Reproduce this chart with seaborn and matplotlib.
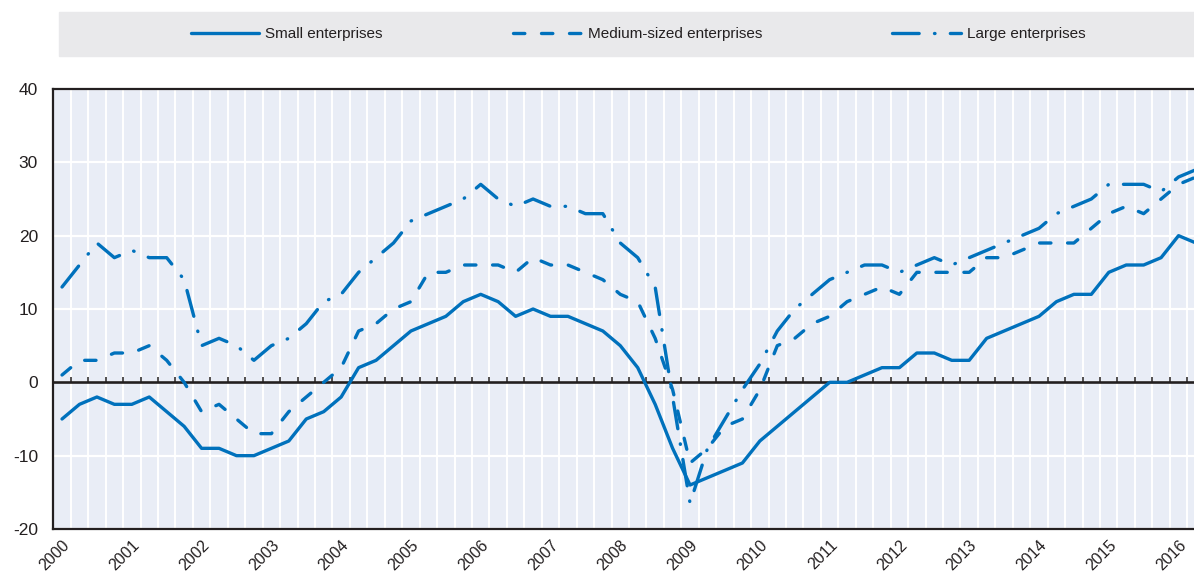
import numpy as np
import pandas as pd
import seaborn as sns
import matplotlib
matplotlib.use("Agg")
import matplotlib.pyplot as plt
import matplotlib.transforms as mtransforms
from matplotlib.patches import Rectangle


YEARS = list(range(2000, 2017))

# quarterly balances, 2000Q1 .. 2016Q2
SMALL = [-5, -3, -2, -3, -3, -2, -4, -6, -9, -9, -10, -10, -9, -8, -5, -4,
         -2, 2, 3, 5, 7, 8, 9, 11, 12, 11, 9, 10, 9, 9, 8, 7,
         5, 2, -3, -9, -14, -13, -12, -11, -8, -6, -4, -2, 0, 0, 1, 2,
         2, 4, 4, 3, 3, 6, 7, 8, 9, 11, 12, 12, 15, 16, 16, 17,
         20, 19]
MEDIUM = [1, 3, 3, 4, 4, 5, 3, 0, -4, -3, -5, -7, -7, -4, -2, 0,
          2, 7, 8, 10, 11, 15, 15, 16, 16, 16, 15, 17, 16, 16, 15, 14,
          12, 11, 6, -1, -11, -9, -6, -5, -1, 5, 6, 8, 9, 11, 12, 13,
          12, 15, 15, 15, 15, 17, 17, 18, 19, 19, 19, 21, 23, 24, 23, 25,
          27, 28]
LARGE = [13, 16, 19, 17, 18, 17, 17, 14, 5, 6, 5, 3, 5, 6, 8, 11,
         12, 15, 17, 19, 22, 23, 24, 25, 27, 25, 24, 25, 24, 24, 23, 23,
         19, 17, 13, -2, -16.5, -9, -5, -1, 2.5, 7, 10, 12, 14, 15, 16, 16,
         15, 16, 17, 16, 17, 18, 19, 20, 21, 23, 24, 25, 27, 27, 27, 26,
         28, 29]

SERIES = ["Small enterprises", "Medium-sized enterprises", "Large enterprises"]
Y_TICKS = [-20, -10, 0, 10, 20, 30, 40]

BLUE = "#0071bc"
DARK = "#231f20"
PANEL = "#e9edf6"
LEGEND_BG = "#e9e9eb"

W, H = 1194, 573

sns.set_theme(style="white")
plt.rcParams["font.family"] = ["Liberation Sans", "DejaVu Sans"]
plt.rcParams["axes.unicode_minus"] = False
plt.rcParams["lines.dash_capstyle"] = "round"
plt.rcParams["lines.solid_capstyle"] = "round"

n = len(SMALL)
quarters = [f"{y}-Q{q}" for y in YEARS for q in range(1, 5)][:n]
df = pd.DataFrame({
    "quarter": quarters,
    "idx": np.arange(n),
    SERIES[0]: SMALL,
    SERIES[1]: MEDIUM,
    SERIES[2]: LARGE,
})
long = df.melt(id_vars=["quarter", "idx"], var_name="series", value_name="value")

fig = plt.figure(figsize=(W / 100, H / 100), dpi=100)
left, right, top, bottom = 53.3, W, 89, 529
ax = fig.add_axes([left / W, 1 - bottom / H, (right - left) / W, (bottom - top) / H])
ax.set_facecolor(PANEL)

# grey band behind the legend
fig.add_artist(Rectangle((59 / W, 1 - 56 / H), (W - 59) / W, 44 / H,
                         transform=fig.transFigure, color=LEGEND_BG, zorder=0))

sns.lineplot(
    data=long, x="idx", y="value", hue="series", style="series",
    hue_order=SERIES, style_order=SERIES,
    palette=[BLUE] * 3,
    dashes={SERIES[0]: "", SERIES[1]: (3.4, 5.0), SERIES[2]: (8.0, 4.6, 0.15, 4.6)},
    linewidth=2.4, ax=ax, zorder=3,
)

bounds = np.arange(n + 1) - 0.5
ax.set_xticks(bounds, minor=True)
ax.set_xticks(np.arange(0, n, 4))
ax.set_xticklabels([str(y) for y in YEARS], rotation=45, ha="right",
                   rotation_mode="anchor", fontsize=11.5, color=DARK)
shift = mtransforms.ScaledTranslation(-4 / 100, 0, fig.dpi_scale_trans)
for lab in ax.get_xticklabels():
    lab.set_transform(lab.get_transform() + shift)
ax.set_yticks(Y_TICKS)
ax.set_yticklabels([str(v) for v in Y_TICKS], fontsize=12.5, color=DARK)

ax.grid(which="minor", axis="x", color="white", linewidth=1.4)
ax.grid(which="major", axis="y", color="white", linewidth=1.6)
ax.grid(which="major", axis="x", visible=False)
ax.set_axisbelow(True)

ax.tick_params(axis="x", which="both", length=0, pad=6)
ax.tick_params(axis="y", which="major", direction="in", length=5, width=1.2,
               color=DARK, pad=11)

ax.axhline(0, color=DARK, linewidth=1.9, zorder=2)
ax.vlines(bounds, 0, 0.75, color=DARK, linewidth=1.1, zorder=2)

for side in ["left", "bottom", "top"]:
    ax.spines[side].set_color(DARK)
    ax.spines[side].set_linewidth(1.6)
ax.spines["right"].set_visible(False)

ax.set_xlim(-0.5, (W - 62) / 17.446)
ax.set_ylim(-20, 40)
ax.set_xlabel("")
ax.set_ylabel("")

handles, labels = ax.get_legend_handles_labels()
ax.legend_.remove()
fig.legend(handles, labels, loc="center", bbox_to_anchor=(638 / W, 1 - 34 / H),
           ncol=3, frameon=False, handlelength=4.5, handletextpad=0.4,
           columnspacing=8.5, fontsize=11, labelcolor=DARK)

fig.savefig("out.png", dpi=100)
